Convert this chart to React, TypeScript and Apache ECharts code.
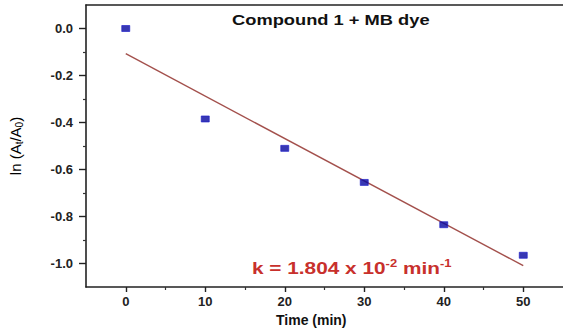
import React, { useEffect, useRef } from "react";
import * as echarts from "echarts";

// Kinetic data: ln(At/A0) against irradiation time
const times = [0, 10, 20, 30, 40, 50];
const lnRatio = [0.0, -0.385, -0.51, -0.655, -0.835, -0.965];

// Linear fit: ln(At/A0) = intercept - k * t
const rateK = 0.01804;
const intercept = -0.1073;
const fitRange = [0, 50];

const yMajor = [-1.0, -0.8, -0.6, -0.4, -0.2, 0.0];
const yMinor = [-0.9, -0.7, -0.5, -0.3, -0.1];
const xMajor = [0, 10, 20, 30, 40, 50];
const xMinor = [5, 15, 25, 35, 45];

const FONT = "'Liberation Sans', Arial, sans-serif";

export default function App() {
  const ref = useRef<HTMLDivElement>(null);

  useEffect(() => {
    if (!ref.current) return;
    const chart = echarts.init(ref.current, null, { renderer: "svg" });

    const points = times.map((t, i) => [t, lnRatio[i]]);
    const fit = fitRange.map((t) => [t, intercept - rateK * t]);

    const axisLine = { show: true, onZero: false, lineStyle: { color: "#222", width: 1.6 } };
    const hiddenLine = { show: false, onZero: false };

    chart.setOption({
      animation: false,
      backgroundColor: "#fff",
      grid: { left: 83, top: 5, right: -3, bottom: 45 },
      xAxis: [
        {
          type: "value",
          min: -5,
          max: 55,
          interval: 5,
          position: "bottom",
          axisLine,
          splitLine: { show: false },
          axisTick: {
            show: true,
            customValues: xMajor,
            length: 5,
            lineStyle: { color: "#222", width: 1.4 },
          },
          axisLabel: {
            customValues: xMajor,
            color: "#222",
            fontFamily: FONT,
            fontWeight: "bold",
            fontSize: 13,
            margin: 8,
          },
        },
        {
          type: "value",
          min: -5,
          max: 55,
          interval: 5,
          position: "bottom",
          axisLine: hiddenLine,
          splitLine: { show: false },
          axisLabel: { show: false },
          axisTick: {
            show: true,
            customValues: xMinor,
            length: 3,
            lineStyle: { color: "#333", width: 1.2 },
          },
        },
        {
          type: "value",
          min: -5,
          max: 55,
          position: "top",
          axisLine,
          splitLine: { show: false },
          axisLabel: { show: false },
          axisTick: { show: false },
        },
      ],
      yAxis: [
        {
          type: "value",
          min: -1.1,
          max: 0.1,
          interval: 0.1,
          position: "left",
          axisLine,
          splitLine: { show: false },
          axisTick: {
            show: true,
            customValues: yMajor,
            length: 7,
            lineStyle: { color: "#222", width: 1.4 },
          },
          axisLabel: {
            customValues: yMajor,
            formatter: (v: number) => v.toFixed(1),
            color: "#222",
            fontFamily: FONT,
            fontWeight: "bold",
            fontSize: 13,
            margin: 13,
          },
          name: "ln (A{sub|t}/A{sub|0})",
          nameLocation: "middle",
          nameRotate: 90,
          nameGap: 62,
          nameTextStyle: {
            color: "#000",
            fontFamily: FONT,
            fontSize: 15,
            rich: {
              sub: {
                fontFamily: FONT,
                fontSize: 10,
                color: "#000",
                padding: [7, 0, 0, 0],
              },
            },
          },
        },
        {
          type: "value",
          min: -1.1,
          max: 0.1,
          interval: 0.1,
          position: "left",
          axisLine: hiddenLine,
          splitLine: { show: false },
          axisLabel: { show: false },
          axisTick: {
            show: true,
            customValues: yMinor,
            length: 3,
            lineStyle: { color: "#333", width: 1.2 },
          },
        },
      ],
      series: [
        {
          type: "line",
          data: fit,
          showSymbol: false,
          symbol: "none",
          lineStyle: { color: "#a3504c", width: 1.4 },
          z: 2,
        },
        {
          type: "scatter",
          data: points,
          symbol: "rect",
          symbolSize: [8, 6],
          itemStyle: { color: "#0606a0", borderColor: "#1c1cc8", borderWidth: 0.8 },
          z: 3,
        },
      ],
      graphic: [
        {
          type: "text",
          x: 232,
          y: 20,
          scaleX: 1.22,
          style: {
            text: "Compound 1 + MB dye",
            fill: "#111",
            font: `bold 15px ${FONT}`,
            verticalAlign: "middle",
          },
        },
        {
          type: "text",
          x: 276,
          y: 320,
          style: {
            text: "Time (min)",
            fill: "#111",
            font: `bold 14px ${FONT}`,
            verticalAlign: "middle",
          },
        },
        {
          type: "text",
          x: 252,
          y: 268,
          scaleX: 1.3,
          style: {
            text: "k = 1.804 x 10{sup|-2} min{sup|-1}",
            fill: "#c8302c",
            font: `bold 16px ${FONT}`,
            verticalAlign: "middle",
            rich: {
              sup: {
                fill: "#c8302c",
                fontFamily: FONT,
                fontWeight: "bold",
                fontSize: 10,
                padding: [0, 0, 9, 0],
              },
            },
          },
        },
      ],
    });

    return () => chart.dispose();
  }, []);

  return (
    <div
      ref={ref}
      style={{ position: "absolute", left: 0, top: 0, width: 563, height: 332 }}
    />
  );
}
